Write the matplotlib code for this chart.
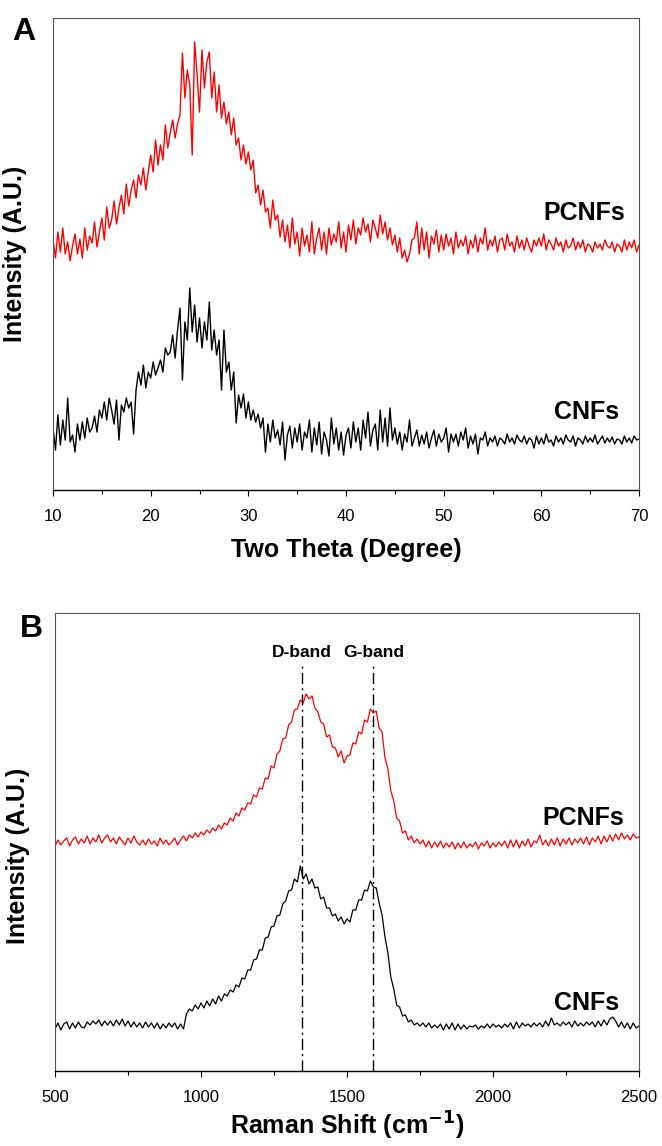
import numpy as np
import matplotlib.pyplot as plt
from matplotlib.ticker import MultipleLocator

plt.rcParams['font.family'] = ['Liberation Sans', 'DejaVu Sans']

# XRD: 2 theta from 10 to 70 every 0.25 deg (intensities in arbitrary units)
theta = np.arange(10, 70.001, 0.25)
xrd_pcnf = [
    250, 232, 258, 238, 262, 236, 248, 229, 244, 256, 236, 251,
    232, 262, 240, 254, 247, 268, 243, 258, 272, 250, 283, 262,
    270, 289, 266, 282, 295, 276, 306, 284, 300, 310, 292, 315,
    305, 322, 300, 318, 335, 318, 350, 325, 345, 330, 365, 342,
    357, 370, 352, 366, 375, 437, 392, 420, 405, 335, 448, 415,
    378, 440, 402, 428, 438, 392, 418, 378, 405, 372, 388, 366,
    378, 355, 372, 345, 352, 330, 345, 326, 338, 320, 330, 297,
    305, 285, 300, 278, 282, 262, 290, 270, 275, 253, 270, 248,
    265, 242, 272, 246, 258, 234, 262, 244, 255, 238, 268, 236,
    252, 262, 240, 258, 236, 262, 245, 256, 248, 268, 242, 258,
    238, 265, 250, 270, 246, 262, 255, 272, 258, 266, 248, 270,
    262, 252, 275, 256, 268, 250, 262, 245, 255, 238, 252, 232,
    240, 228, 236, 250, 252, 268, 236, 262, 240, 258, 232, 254,
    246, 260, 238, 255, 240, 256, 244, 252, 236, 258, 242, 250,
    244, 254, 236, 250, 242, 255, 238, 252, 246, 262, 240, 250,
    244, 254, 238, 250, 252, 240, 256, 244, 248, 238, 254, 242,
    250, 240, 252, 244, 238, 250, 244, 252, 244, 256, 240, 250,
    246, 240, 252, 244, 248, 238, 250, 242, 244, 252, 240, 248,
    242, 250, 238, 246, 244, 238, 248, 242, 246, 240, 250, 244,
    242, 248, 238, 246, 244, 238, 250, 240, 248, 242, 250, 238,
    245,
]
xrd_cnf = [
    62, 40, 75, 45, 70, 50, 92, 48, 55, 38, 66, 50,
    68, 52, 72, 58, 62, 74, 58, 80, 72, 88, 70, 92,
    80, 66, 90, 50, 85, 78, 92, 82, 88, 56, 100, 118,
    105, 125, 102, 118, 112, 128, 115, 122, 130, 118, 142, 135,
    138, 155, 132, 160, 182, 110, 168, 150, 202, 158, 185, 148,
    172, 142, 168, 150, 188, 140, 160, 135, 150, 100, 160, 118,
    128, 100, 118, 67, 95, 82, 96, 72, 88, 70, 80, 68,
    76, 62, 72, 38, 66, 48, 70, 52, 60, 45, 68, 30,
    55, 64, 42, 62, 48, 66, 40, 58, 52, 70, 38, 62,
    45, 68, 36, 58, 50, 34, 72, 46, 62, 40, 58, 35,
    55, 62, 42, 68, 48, 62, 40, 70, 52, 78, 44, 60,
    66, 40, 80, 48, 72, 44, 82, 50, 62, 46, 58, 40,
    56, 48, 70, 44, 52, 60, 44, 55, 46, 58, 42, 52,
    60, 44, 56, 48, 52, 62, 38, 56, 48, 56, 44, 58,
    50, 62, 42, 54, 46, 56, 36, 52, 50, 58, 44, 52,
    48, 54, 44, 52, 50, 46, 56, 48, 52, 46, 55, 50,
    48, 54, 46, 52, 50, 42, 54, 46, 52, 46, 56, 48,
    50, 44, 54, 48, 52, 46, 55, 50, 48, 54, 44, 52,
    50, 46, 54, 48, 52, 48, 55, 46, 50, 54, 47, 52,
    48, 53, 46, 51, 50, 46, 54, 48, 52, 47, 54, 50,
    51,
]

# Raman: 500 to 2500 cm-1 every 10 cm-1
shift = np.arange(500, 2501, 10)
raman_pcnf = [
    225, 231, 226, 230, 233, 225, 231, 234, 227, 232,
    228, 235, 227, 233, 229, 236, 228, 233, 236, 229,
    233, 227, 234, 230, 226, 233, 228, 235, 229, 226,
    231, 226, 232, 227, 230, 225, 233, 227, 231, 226,
    229, 233, 226, 231, 235, 230, 236, 233, 238, 234,
    239, 236, 241, 238, 243, 240, 246, 242, 248, 246,
    253, 250, 258, 255, 263, 261, 268, 267, 276, 274,
    283, 282, 293, 292, 305, 303, 317, 320, 332, 333,
    346, 349, 361, 362, 371, 368, 377, 372, 375, 363,
    359, 349, 347, 334, 336, 324, 323, 314, 320, 308,
    315, 316, 328, 327, 339, 337, 351, 349, 362, 358,
    360, 343, 339, 313, 302, 280, 270, 253, 250, 238,
    240, 231, 235, 228, 232, 227, 231, 224, 230, 223,
    229, 224, 230, 223, 228, 224, 229, 222, 228, 223,
    229, 223, 227, 224, 229, 222, 228, 225, 230, 223,
    228, 224, 229, 225, 230, 223, 231, 224, 231, 223,
    230, 225, 232, 224, 230, 228, 236, 226, 231, 225,
    232, 226, 233, 225, 232, 227, 233, 226, 232, 228,
    233, 227, 234, 226, 233, 229, 235, 227, 235, 229,
    236, 230, 237, 231, 238, 232, 236, 231, 237, 233,
    234,
]
raman_cnf = [
    42, 48, 41, 47, 49, 42, 48, 43, 49, 44,
    43, 49, 46, 50, 47, 51, 45, 50, 46, 50,
    45, 51, 46, 52, 45, 50, 44, 49, 44, 48,
    43, 49, 44, 48, 43, 48, 42, 47, 43, 48,
    44, 48, 42, 47, 42, 57, 62, 60, 66, 62,
    68, 63, 70, 65, 72, 67, 75, 70, 77, 75,
    81, 79, 86, 84, 93, 92, 101, 101, 111, 112,
    121, 121, 133, 134, 144, 145, 155, 156, 167, 170,
    180, 181, 192, 189, 205, 192, 197, 187, 192, 183,
    184, 172, 174, 163, 163, 155, 157, 150, 154, 147,
    152, 149, 161, 161, 171, 171, 181, 180, 190, 184,
    183, 168, 156, 134, 118, 94, 82, 66, 64, 55,
    56, 49, 51, 46, 48, 45, 48, 44, 48, 43,
    46, 43, 47, 41, 47, 42, 48, 41, 47, 42,
    46, 42, 45, 44, 46, 42, 45, 43, 47, 43,
    47, 44, 46, 43, 47, 44, 48, 42, 49, 43,
    48, 45, 47, 44, 48, 45, 48, 44, 50, 45,
    53, 46, 48, 45, 49, 46, 49, 44, 50, 45,
    48, 45, 49, 46, 49, 44, 50, 45, 51, 46,
    52, 54, 50, 44, 49, 43, 48, 42, 48, 43,
    45,
]
d_band = 1345
g_band = 1590

fig = plt.figure(figsize=(6.62, 11.46), dpi=100)
axA = fig.add_axes([0.0801, 0.5724, 0.8852, 0.4119])
axB = fig.add_axes([0.0831, 0.06545, 0.8822, 0.3997])


def style_axis(ax):
    for side in ['top', 'left', 'right']:
        ax.spines[side].set_color('#555555')
        ax.spines[side].set_linewidth(0.8)
    ax.spines['bottom'].set_color('black')
    ax.spines['bottom'].set_linewidth(1.0)
    ax.set_yticks([])
    ax.tick_params(axis='x', which='major', direction='out', length=4, width=0.8,
                   pad=10, labelsize=12, top=False)
    ax.tick_params(axis='x', which='minor', direction='out', length=3, width=0.8, top=False)


# panel A - XRD
axA.plot(theta, xrd_pcnf, color='#ff0000', lw=1.0)
axA.plot(theta, xrd_cnf, color='black', lw=1.0)
axA.set_xlim(10, 70)
axA.set_ylim(0, 472)
axA.xaxis.set_major_locator(MultipleLocator(10))
axA.xaxis.set_minor_locator(MultipleLocator(5))
style_axis(axA)
axA.set_xlabel('Two Theta (Degree)', fontsize=18, fontweight='bold', labelpad=10)
axA.set_ylabel('Intensity (A.U.)', fontsize=18, fontweight='bold')
axA.yaxis.set_label_coords(-0.044, 0.5)
axA.text(68.6, 277, 'PCNFs', ha='right', va='center', fontsize=18, fontweight='bold')
axA.text(68.0, 78, 'CNFs', ha='right', va='center', fontsize=18, fontweight='bold')
fig.text(24 / 662, 1 - 32 / 1146, 'A', ha='center', va='center', fontsize=23, fontweight='bold')

# panel B - Raman
axB.plot(shift, raman_pcnf, color='#ff0000', lw=0.9)
axB.plot(shift, raman_cnf, color='black', lw=0.9)
for pos, lab in [(d_band, 'D-band'), (g_band, 'G-band')]:
    axB.plot([pos, pos], [0, 406], color='black', lw=1.0, linestyle=(0, (8, 3, 1.5, 3)))
    axB.text(pos, 418, lab, ha='center', va='center', fontsize=12.5, fontweight='bold')
axB.set_xlim(500, 2500)
axB.set_ylim(0, 458)
axB.xaxis.set_major_locator(MultipleLocator(500))
axB.xaxis.set_minor_locator(MultipleLocator(250))
style_axis(axB)
axB.set_xlabel('Raman Shift (cm$^{\\mathbf{-1}}$)', fontsize=18, fontweight='bold', labelpad=3)
axB.set_ylabel('Intensity (A.U.)', fontsize=18, fontweight='bold')
axB.yaxis.set_label_coords(-0.043, 0.469)
axB.text(2449, 253, 'PCNFs', ha='right', va='center', fontsize=18, fontweight='bold')
axB.text(2431, 68, 'CNFs', ha='right', va='center', fontsize=18, fontweight='bold')
fig.text(31 / 662, 1 - 629 / 1146, 'B', ha='center', va='center', fontsize=23, fontweight='bold')

fig.savefig('out.png', dpi=100)
